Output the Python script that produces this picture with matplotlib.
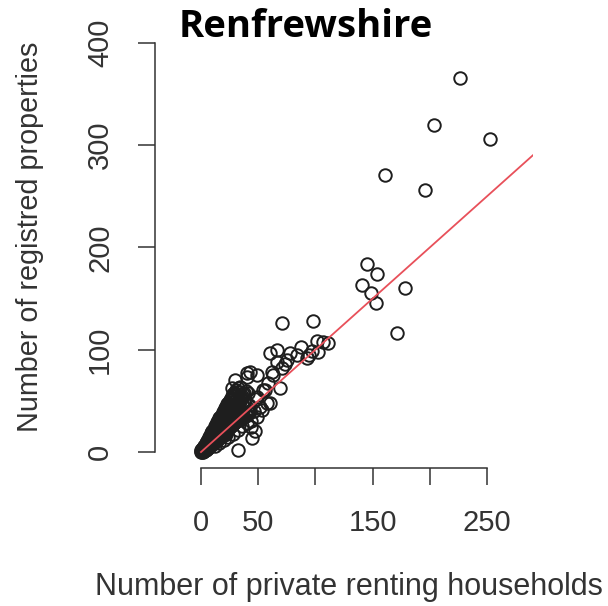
import matplotlib
matplotlib.use('Agg')
import numpy as np
import matplotlib.pyplot as plt

# private renting households vs registered properties, Renfrewshire data zones
# sparse upper tail
tail_x = [226, 204, 253, 161, 196, 145, 154, 141, 149, 153, 178, 171,
          71, 98, 107, 111, 101, 87, 66, 78, 94, 102, 66, 75, 62, 71, 69,
          43, 40, 54, 60, 52, 49, 47, 45, 32, 49, 53, 59, 40, 49, 30, 27,
          63, 84, 93, 56, 58, 60, 73, 97]
tail_y = [366, 320, 306, 271, 256, 184, 174, 163, 155, 146, 160, 116,
          126, 128, 108, 107, 109, 103, 100, 97, 95, 98, 88, 90, 78, 82, 63,
          78, 73, 61, 48, 44, 54, 21, 14, 2, 34, 41, 67, 77, 75, 70, 63,
          75, 95, 92, 61, 48, 97, 86, 99]

# dense cluster near the origin
dense_x = [0, 0, 0, 1, 1, 1, 1, 2, 2, 2, 2, 2, 3, 3, 3, 3, 3, 4, 4, 4, 4, 4,
           5, 5, 5, 5, 5, 6, 6, 6, 6, 6, 7, 7, 7, 7, 7, 8, 8, 8, 8, 8, 8,
           9, 9, 9, 9, 9, 10, 10, 10, 10, 10, 10, 11, 11, 11, 11, 11,
           12, 12, 12, 12, 12, 12, 13, 13, 13, 13, 13, 14, 14, 14, 14, 14, 14,
           15, 15, 15, 15, 15, 16, 16, 16, 16, 16, 17, 17, 17, 17, 17,
           18, 18, 18, 18, 18, 19, 19, 19, 19, 20, 20, 20, 20, 20,
           21, 21, 21, 21, 22, 22, 22, 22, 22, 23, 23, 23, 23,
           24, 24, 24, 24, 25, 25, 25, 25, 26, 26, 26, 27, 27, 27, 27,
           28, 28, 28, 29, 29, 29, 30, 30, 30, 31, 31, 32, 32, 32,
           33, 33, 34, 34, 35, 35, 36, 36, 37, 38, 38, 39, 40, 41, 42, 43, 44]
dense_y = [0, 1, 2, 0, 2, 3, 1, 1, 3, 2, 4, 0, 2, 4, 5, 1, 3, 3, 5, 6, 2, 4,
           4, 7, 3, 8, 5, 5, 8, 10, 4, 6, 6, 9, 11, 5, 8, 7, 10, 13, 6, 11, 9,
           8, 12, 14, 7, 10, 9, 13, 16, 8, 11, 15, 10, 14, 18, 9, 12,
           11, 15, 20, 10, 13, 17, 12, 16, 22, 11, 19, 13, 18, 24, 12, 21, 15,
           14, 19, 26, 13, 22, 15, 20, 28, 14, 24, 16, 22, 30, 15, 26,
           17, 23, 32, 16, 27, 18, 24, 34, 29, 19, 26, 36, 17, 31,
           20, 27, 38, 33, 21, 28, 40, 18, 35, 22, 30, 42, 37,
           23, 31, 44, 38, 24, 33, 47, 40, 25, 34, 49, 26, 36, 51, 42,
           27, 37, 53, 28, 39, 55, 29, 41, 57, 30, 46, 31, 44, 59,
           32, 48, 31, 50, 33, 52, 33, 48, 35, 34, 50, 36, 37, 39, 38, 40, 30]

# upper-left edge and spread of the cluster
spread_x = [3, 4, 5, 6, 7, 8, 9, 10, 11, 12, 13, 14, 15, 16, 17, 18, 19, 20,
            21, 22, 23, 24, 25, 26, 27, 28, 29, 31, 32, 34,
            5, 7, 9, 11, 13, 15, 17, 19, 21, 23, 25, 27, 29, 31, 33, 35, 37,
            39, 41, 6, 8, 10, 12, 14, 16, 18, 20, 22, 24, 26, 28, 30, 32, 34,
            36, 38, 12, 16, 20, 24, 28, 32, 36, 40, 44, 38, 42, 46, 48]
spread_y = [6, 9, 11, 12, 15, 16, 19, 21, 22, 25, 26, 29, 30, 33, 34, 36, 39,
            40, 43, 44, 47, 48, 51, 52, 55, 57, 58, 61, 63, 64,
            8, 11, 14, 17, 20, 23, 27, 30, 33, 36, 39, 42, 45, 48, 51, 54, 57,
            60, 58, 9, 13, 15, 19, 22, 25, 28, 32, 35, 37, 41, 44, 47, 50, 53,
            55, 58, 6, 9, 12, 15, 18, 22, 25, 28, 24, 44, 46, 40, 52]

fit_intercept = 0.0
fit_slope = 1.0
fit_range = [0, 290]

x_ticks = [0, 50, 100, 150, 200, 250]
x_labels = ['0', '50', '', '150', '', '250']
y_ticks = [0, 100, 200, 300, 400]

W, H = 608, 606
fig = plt.figure(figsize=(W / 100, H / 100), dpi=100)
ax = fig.add_axes([155 / W, 1 - 468 / H, (533 - 155) / W, (468 - 37) / H])

pts_x = np.array(dense_x + spread_x + tail_x)
pts_y = np.array(dense_y + spread_y + tail_y)
ax.plot(pts_x, pts_y, 'o', mfc='none', mec='#1e1e1e', ms=9, mew=1.4)

lx = np.array(fit_range)
ax.plot(lx, fit_intercept + fit_slope * lx, color='#e8505a', lw=1.3)

ax.set_xlim(-40.2, 290.2)
ax.set_ylim(-15.6, 405.7)

for s in ['top', 'right']:
    ax.spines[s].set_visible(False)
ax.spines['left'].set_bounds(0, 400)
ax.spines['bottom'].set_bounds(0, 250)
for s in ['left', 'bottom']:
    ax.spines[s].set_color('#333333')
    ax.spines[s].set_linewidth(1.1)

txt = '#333333'
ax.set_xticks(x_ticks)
ax.set_xticklabels(x_labels)
ax.set_yticks(y_ticks)
ax.set_yticklabels([str(v) for v in y_ticks], rotation=90, va='center')
ax.tick_params(direction='out', length=12.5, width=1.1, color='#333333',
               labelcolor=txt, labelsize=21, pad=17)
for lab in ax.get_xticklabels() + ax.get_yticklabels():
    lab.set_family('Liberation Sans')

fig.text(30 / W, 1 - 237 / H, 'Number of registred properties', rotation=90,
         ha='center', va='center', fontsize=20.7, color=txt, family='Liberation Sans')
fig.text(349 / W, 1 - 587 / H, 'Number of private renting households',
         ha='center', va='center', fontsize=22, color=txt, family='Liberation Sans')
fig.text(306 / W, 1 - 27 / H, 'Renfrewshire', ha='center', va='center',
         fontsize=27.5, fontweight='bold', color='black', family='Open Sans')

fig.savefig('out.png', dpi=100)
